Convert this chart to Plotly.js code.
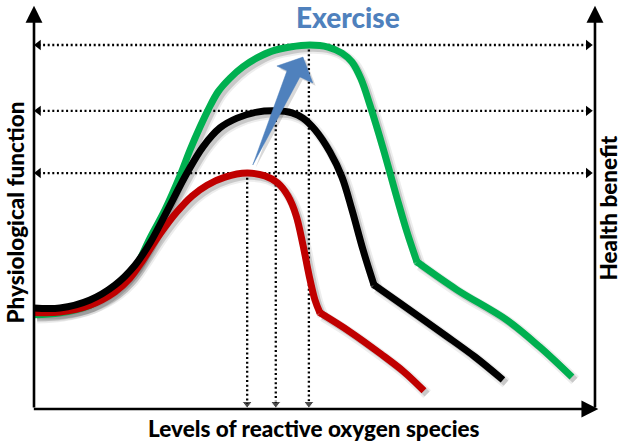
<!DOCTYPE html>
<html>
<head>
<meta charset="utf-8">
<script src="https://cdn.plot.ly/plotly-3.0.1.min.js"></script>
<style>html,body{margin:0;padding:0;background:#fff;}#chart{width:623px;height:443px;}</style>
</head>
<body>
<div id="chart"></div>
<script>
// ---- data (x: level of reactive oxygen species, y: physiological function; 0-100 schematic units) ----
// each curve: smooth rise/fall part, then a straighter tail after the kink
const redCurveX   = [0, 4.63, 9.98, 14.44, 17.11, 19.43, 22.46, 25.49, 28.16, 30.84, 34.05, 37.97, 41.18, 43.49, 45.28, 46.7, 47.95, 49.02, 50.09, 50.98];
const redCurveY   = [23.9, 24.0, 25.7, 29.0, 32.4, 36.9, 43.3, 48.8, 52.7, 55.4, 57.4, 58.4, 57.7, 55.9, 52.7, 48.0, 40.6, 33.2, 27.0, 23.8];
const redTailX    = [50.98, 56.33, 61.85, 65.95, 69.52];
const redTailY    = [23.8, 19.1, 13.6, 9.2, 4.5];

const blackCurveX = [0, 4.63, 9.98, 14.44, 18.0, 20.68, 23.35, 27.27, 30.12, 33.16, 36.19, 39.75, 42.96, 45.99, 47.95, 50.09, 52.76, 54.9, 56.68, 58.65, 60.61];
const blackCurveY = [25.0, 25.0, 27.0, 30.7, 35.6, 41.1, 48.0, 58.4, 64.9, 69.6, 72.0, 73.5, 73.8, 73.3, 72.0, 69.1, 63.6, 57.4, 49.3, 39.4, 30.7];
const blackTailX  = [60.61, 65.24, 73.26, 78.61, 83.6];
const blackTailY  = [30.7, 26.2, 18.3, 12.9, 7.2];

const greenCurveX = [0, 4.63, 9.98, 14.44, 18.0, 20.68, 23.35, 26.02, 27.81, 29.59, 31.02, 32.8, 34.94, 37.25, 39.75, 42.42, 45.63, 49.2, 52.41, 54.9, 56.68, 58.29, 59.89, 62.21, 64.71, 66.49, 68.27];
const greenCurveY = [23.3, 23.8, 25.7, 29.5, 34.9, 42.3, 49.3, 57.7, 64.1, 69.8, 74.0, 78.5, 81.9, 84.7, 86.9, 88.6, 89.6, 90.1, 89.6, 88.1, 85.9, 81.7, 75.2, 64.6, 52.2, 43.8, 36.4];
const greenTailX  = [68.27, 75.4, 84.31, 90.2, 95.9];
const greenTailY  = [36.4, 29.5, 22.0, 15.3, 7.9];

// peak levels (red, black, green) and their ROS positions
const peakLevels = [58.4, 73.8, 90.1];
const peakROS    = [38.0, 43.1, 49.0];

// exercise arrow outline
const arrowX = [39.0, 45.1, 43.3, 47.95, 49.7, 47.4, 39.0];
const arrowY = [60.4, 83.7, 84.9, 87.1, 80.7, 82.2, 60.4];

const xTitle = 'Levels of reactive oxygen species';
const yTitle = 'Physiological function';
const y2Title = 'Health benefit';
const topLabel = 'Exercise';

// ---- build ----
const traces = [];
const dotLeft = 0.8, dotRight = 98.8, dotBottom = 1.3;
const dotLine = {color:'#000', width:2.3, dash:'2px,2.6px'};

// horizontal dotted double arrows
peakLevels.forEach(lv => {
  traces.push({x:[dotLeft, dotRight], y:[lv, lv], mode:'lines+markers', type:'scatter', hoverinfo:'skip',
    line:dotLine, marker:{symbol:['triangle-left','triangle-right'], size:9, color:'#000'}});
});
// vertical dotted arrows
peakROS.forEach((xv, i) => {
  traces.push({x:[xv, xv], y:[peakLevels[i], dotBottom], mode:'lines+markers', type:'scatter', hoverinfo:'skip',
    line:dotLine, marker:{symbol:['circle','triangle-down'], size:[0.1, 9], color:'#000'}});
});

// curves with soft shadow
const curves = [
  {cx: greenCurveX, cy: greenCurveY, tx: greenTailX, ty: greenTailY, c: '#00B050'},
  {cx: redCurveX,   cy: redCurveY,   tx: redTailX,   ty: redTailY,   c: '#C00000'},
  {cx: blackCurveX, cy: blackCurveY, tx: blackTailX, ty: blackTailY, c: '#000000'}
];
const dx = 0.55, dy = -0.8;
function part(xs, ys, color, width, shape, off, kinkMarker) {
  const t = {x: xs.map(v => v + (off ? dx : 0)), y: ys.map(v => v + (off ? dy : 0)),
    mode: kinkMarker ? 'lines+markers' : 'lines', type:'scatter', hoverinfo:'skip',
    line:{color: color, width: width, shape: shape, smoothing: 1.0}};
  if (kinkMarker) t.marker = {color: color, size: xs.map((v, i) => i === 0 ? width : 0), line:{width:0}};
  return t;
}
curves.forEach(cv => {
  traces.push(part(cv.cx, cv.cy, 'rgba(0,0,0,0.07)', 11, 'spline', true, false));
  traces.push(part(cv.tx, cv.ty, 'rgba(0,0,0,0.07)', 11, 'spline', true, false));
  traces.push(part(cv.cx, cv.cy, 'rgba(0,0,0,0.15)', 7, 'spline', true, false));
  traces.push(part(cv.tx, cv.ty, 'rgba(0,0,0,0.15)', 7, 'spline', true, false));
});
curves.forEach(cv => {
  traces.push(part(cv.cx, cv.cy, cv.c, 7, 'spline', false, false));
  traces.push(part(cv.tx, cv.ty, cv.c, 7, 'spline', false, true));
});

// exercise arrow
traces.push({x: arrowX.map(v => v + 0.5), y: arrowY.map(v => v - 0.7), mode:'lines', type:'scatter', fill:'toself',
  fillcolor:'rgba(0,0,0,0.15)', line:{width:0, color:'rgba(0,0,0,0)'}, hoverinfo:'skip'});
traces.push({x: arrowX, y: arrowY, mode:'lines', type:'scatter', fill:'toself',
  fillcolor:'#4F81BD', line:{width:0.5, color:'#4F81BD'}, hoverinfo:'skip'});

const fam = 'Lato, "Open Sans", sans-serif';
const font = {family:fam, color:'#000', size:22.5, weight:900};

const annotations = [
  // axes with arrow heads
  {x:0, y:99.8, ax:0, ay:0, xref:'x', yref:'y', axref:'x', ayref:'y', showarrow:true, arrowhead:2, arrowsize:1.3, arrowwidth:2.6, arrowcolor:'#000', text:''},
  {x:100, y:99.8, ax:100, ay:0, xref:'x', yref:'y', axref:'x', ayref:'y', showarrow:true, arrowhead:2, arrowsize:1.3, arrowwidth:2.6, arrowcolor:'#000', text:''},
  {x:100.6, y:0, ax:-0.3, ay:0, xref:'x', yref:'y', axref:'x', ayref:'y', showarrow:true, arrowhead:2, arrowsize:1.3, arrowwidth:2.6, arrowcolor:'#000', text:''},
  // titles
  {x:0.5, y:0, xref:'paper', yref:'paper', xanchor:'center', yanchor:'middle', yshift:-15.5, xshift:-3,
    text: xTitle, showarrow:false, font:font},
  {x:0, y:0.5, xref:'paper', yref:'paper', xanchor:'center', yanchor:'middle', xshift:-15, yshift:-6, textangle:-90,
    text: yTitle, showarrow:false, font:font},
  {x:1, y:0.5, xref:'paper', yref:'paper', xanchor:'center', yanchor:'middle', xshift:5, yshift:-2, textangle:-90,
    text: y2Title, showarrow:false, font:font},
  {x:56.0, y:1, xref:'x', yref:'paper', xanchor:'center', yanchor:'top', yshift:2,
    text: topLabel, showarrow:false, font:{family:fam, color:'#4F81BD', size:28, weight:900}}
];

const layout = {
  width:623, height:443,
  margin:{l:30, r:20, t:0, b:30},
  paper_bgcolor:'#fff', plot_bgcolor:'#fff',
  showlegend:false,
  xaxis:{range:[-0.713, 101.43], showgrid:false, zeroline:false, showticklabels:false, ticks:'', showline:false, fixedrange:true},
  yaxis:{range:[-0.99, 101.24], showgrid:false, zeroline:false, showticklabels:false, ticks:'', showline:false, fixedrange:true},
  annotations: annotations
};

Plotly.newPlot('chart', traces, layout, {staticPlot:true, displayModeBar:false});
</script>
</body>
</html>
